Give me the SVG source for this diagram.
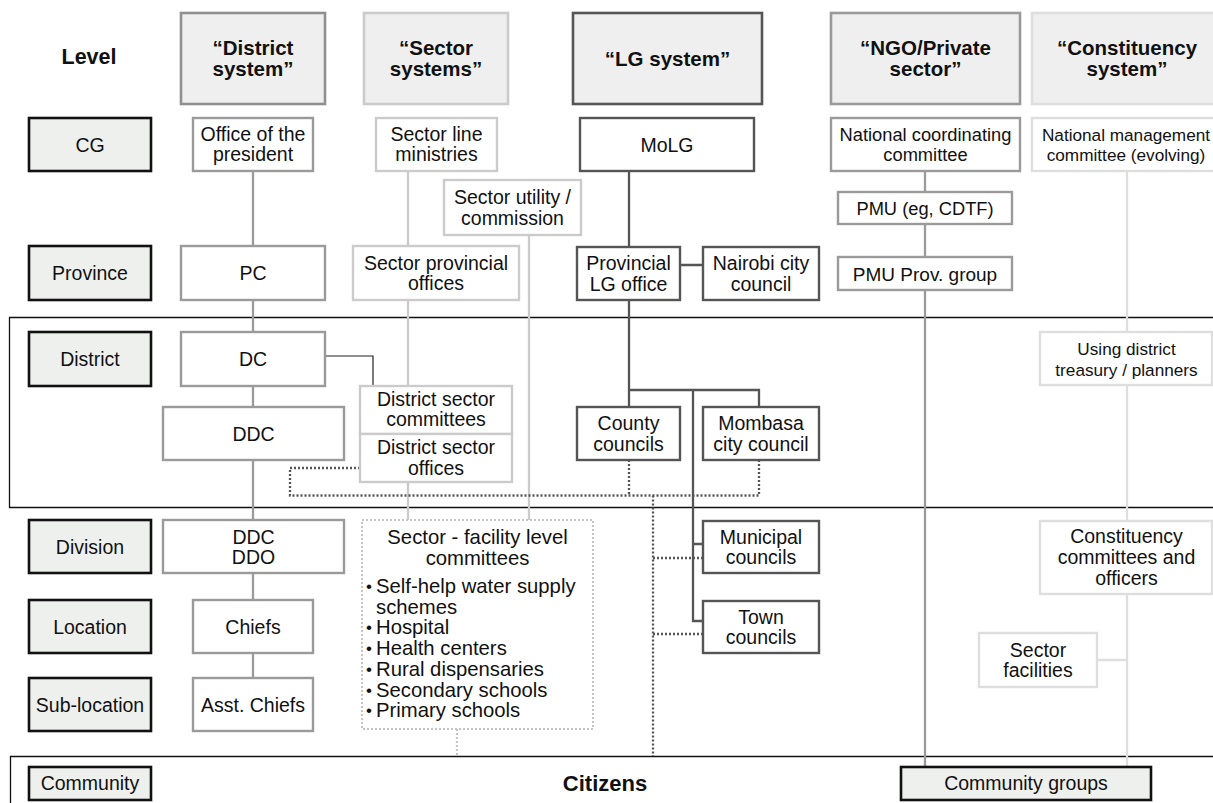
<svg xmlns="http://www.w3.org/2000/svg" width="1213" height="803" viewBox="0 0 1213 803">
  <style>
    text { font-family: "Liberation Sans", Arial, Helvetica, sans-serif; font-size: 19.5px; fill: #111; text-anchor: middle; }
    .hd { font-weight: bold; font-size: 20.5px; }
    .big { font-weight: bold; font-size: 22px; }
    .sm { font-size: 17.2px; }
    .md { font-size: 18.3px; }
    .fac { font-size: 20.3px; text-anchor: start; }
    .bul { font-size: 17px; text-anchor: start; }
    .head rect { fill: #eeefee; stroke-width: 2.6; }
    .lvl rect { fill: #eef0ee; stroke: #111; stroke-width: 2.6; }
    .box rect { fill: #fff; stroke-width: 2.4; }
    .dist rect { stroke: #9a9a9a; }
    .sect rect { stroke: #cbcbcb; }
    .lg rect { stroke: #555; }
    .ngo rect { stroke: #9a9a9a; }
    .cons rect { stroke: #dedede; }
    .frame { fill: none; stroke: #111; stroke-width: 1.3; }
    .ln { fill: none; stroke-width: 2.3; }
    .l-dist { stroke: #9a9a9a; }
    .l-sect { stroke: #cbcbcb; }
    .l-lg { stroke: #555; }
    .l-ngo { stroke: #9a9a9a; }
    .l-cons { stroke: #dedede; }
    .l-thin { fill: none; stroke: #222; stroke-width: 1.2; }
    .dot { fill: none; stroke: #555; stroke-width: 2.3; stroke-dasharray: 2 2; }
    .dot-lt { fill: none; stroke: #c4c4c4; stroke-width: 2.2; stroke-dasharray: 2 2; }
  </style>

  <!-- level bands -->
  <g id="bands">
    <path class="frame" d="M1214 317.5 H9.5 V507.5 H1214"/>
    <path class="frame" d="M1214 756.5 H10.5 V804"/>
  </g>

  <!-- connectors -->
  <g id="connectors">
    <!-- district system -->
    <path class="ln l-dist" d="M253 171 V246 M253 300 V332 M253 386 V407 M253 460 V520 M253 573 V600 M253 653 V678"/>
    <!-- sector systems -->
    <path class="ln l-sect" d="M408 171 V246 M408 300 V386 M408 482 V520 M529 235 V520"/>
    <!-- DC to district sector committees -->
    <path class="l-thin" d="M325 356 H373 V386"/>
    <!-- LG system -->
    <path class="ln l-lg" d="M629 171 V407 M629 390 H759 V407 M693 390 V621 H703 M693 544 H703 M680 265 H703"/>
    <!-- NGO / private sector -->
    <path class="ln l-ngo" d="M925 171 V192 M925 224 V257 M925 290 V767"/>
    <!-- constituency system -->
    <path class="ln l-cons" d="M1127 171 V332 M1127 385 V521 M1127 594 V767 M1097 660 H1127"/>
    <!-- informal links -->
    <path class="dot" d="M360 468 H290 V495.5 H759 V460 M629 460 V495.5 M653 495.5 V756 M653 558 H703 M653 634 H703"/>
    <path class="dot-lt" d="M457 729 V756"/>
  </g>

  <!-- column headers -->
  <g id="level-title"><text class="hd" x="89" y="64" style="font-size:21.5px">Level</text></g>
  <g id="hdr-district" class="head"><rect x="181" y="13" width="144" height="91" stroke="#909090"/><text class="hd" x="253" y="55">“District</text><text class="hd" x="253" y="76">system”</text></g>
  <g id="hdr-sector" class="head"><rect x="364" y="13" width="144" height="91" stroke="#cbcbcb"/><text class="hd" x="436" y="55">“Sector</text><text class="hd" x="436" y="76">systems”</text></g>
  <g id="hdr-lg" class="head"><rect x="573" y="13" width="189" height="91" stroke="#555"/><text class="hd" x="667.5" y="66">“LG system”</text></g>
  <g id="hdr-ngo" class="head"><rect x="831" y="13" width="189" height="91" stroke="#9a9a9a"/><text class="hd" x="925.5" y="55">“NGO/Private</text><text class="hd" x="925.5" y="76">sector”</text></g>
  <g id="hdr-cons" class="head"><rect x="1032" y="13" width="190" height="91" stroke="#dedede"/><text class="hd" x="1127" y="55">“Constituency</text><text class="hd" x="1127" y="76">system”</text></g>

  <!-- level labels -->
  <g id="lvl-cg" class="lvl"><rect x="29" y="118" width="122" height="53"/><text x="90" y="151.5">CG</text></g>
  <g id="lvl-province" class="lvl"><rect x="29" y="246" width="122" height="54"/><text x="90" y="280">Province</text></g>
  <g id="lvl-district" class="lvl"><rect x="29" y="332" width="122" height="54"/><text x="90" y="366">District</text></g>
  <g id="lvl-division" class="lvl"><rect x="29" y="520" width="122" height="53"/><text x="90" y="553.5">Division</text></g>
  <g id="lvl-location" class="lvl"><rect x="29" y="600" width="122" height="53"/><text x="90" y="633.5">Location</text></g>
  <g id="lvl-sublocation" class="lvl"><rect x="29" y="678" width="122" height="53"/><text x="90" y="711.5">Sub-location</text></g>
  <g id="lvl-community" class="lvl"><rect x="29" y="767" width="122" height="33"/><text x="90" y="790">Community</text></g>

  <!-- district system -->
  <g id="office-president" class="box dist"><rect x="193" y="118" width="120" height="53"/><text x="253" y="140.5">Office of the</text><text x="253" y="161">president</text></g>
  <g id="pc" class="box dist"><rect x="181" y="246" width="144" height="54"/><text x="253" y="280">PC</text></g>
  <g id="dc" class="box dist"><rect x="181" y="332" width="144" height="54"/><text x="253" y="366">DC</text></g>
  <g id="ddc" class="box dist"><rect x="163" y="407" width="181" height="53"/><text x="253.5" y="440.5">DDC</text></g>
  <g id="ddc-ddo" class="box dist"><rect x="163" y="520" width="181" height="53"/><text x="253.5" y="543.5">DDC</text><text x="253.5" y="564">DDO</text></g>
  <g id="chiefs" class="box dist"><rect x="193" y="600" width="120" height="53"/><text x="253" y="633.5">Chiefs</text></g>
  <g id="asst-chiefs" class="box dist"><rect x="193" y="678" width="120" height="53"/><text x="253" y="711.5">Asst. Chiefs</text></g>

  <!-- sector systems -->
  <g id="sector-ministries" class="box sect"><rect x="376" y="118" width="121" height="53"/><text x="436.5" y="140.5">Sector line</text><text x="436.5" y="161">ministries</text></g>
  <g id="sector-utility" class="box sect"><rect x="444" y="180" width="137" height="55"/><text x="512.5" y="204">Sector utility /</text><text x="512.5" y="225">commission</text></g>
  <g id="sector-provincial" class="box sect"><rect x="353" y="246" width="166" height="54"/><text x="436" y="269.5">Sector provincial</text><text x="436" y="290">offices</text></g>
  <g id="district-committees" class="box sect"><rect x="360" y="386" width="152" height="48"/><text x="436" y="405.5">District sector</text><text x="436" y="426">committees</text></g>
  <g id="district-offices" class="box sect"><rect x="360" y="434" width="152" height="48"/><text x="436" y="454">District sector</text><text x="436" y="474.5">offices</text></g>
  <g id="facility-committees">
    <rect x="362" y="520" width="231" height="209" fill="#fff" stroke="#c4c4c4" stroke-width="2" stroke-dasharray="2 2"/>
    <text x="477.5" y="544" style="font-size:20.3px">Sector - facility level</text>
    <text x="477.5" y="565" style="font-size:20.3px">committees</text>
    <text class="bul" x="366" y="592">•</text><text class="fac" x="376" y="593">Self-help water supply</text>
    <text class="fac" x="376" y="613.5">schemes</text>
    <text class="bul" x="366" y="633">•</text><text class="fac" x="376" y="634">Hospital</text>
    <text class="bul" x="366" y="654">•</text><text class="fac" x="376" y="655">Health centers</text>
    <text class="bul" x="366" y="675">•</text><text class="fac" x="376" y="676">Rural dispensaries</text>
    <text class="bul" x="366" y="695.5">•</text><text class="fac" x="376" y="696.5">Secondary schools</text>
    <text class="bul" x="366" y="716">•</text><text class="fac" x="376" y="717">Primary schools</text>
  </g>

  <!-- LG system -->
  <g id="molg" class="box lg"><rect x="580" y="118" width="174" height="53"/><text x="667" y="151.5">MoLG</text></g>
  <g id="provincial-lg" class="box lg"><rect x="577" y="247" width="103" height="53"/><text x="628.5" y="270">Provincial</text><text x="628.5" y="290.5">LG office</text></g>
  <g id="nairobi" class="box lg"><rect x="703" y="247" width="116" height="53"/><text x="761" y="270">Nairobi city</text><text x="761" y="290.5">council</text></g>
  <g id="county-councils" class="box lg"><rect x="577" y="407" width="103" height="53"/><text x="628.5" y="430">County</text><text x="628.5" y="450.5">councils</text></g>
  <g id="mombasa" class="box lg"><rect x="703" y="407" width="116" height="53"/><text x="761" y="430">Mombasa</text><text x="761" y="450.5">city council</text></g>
  <g id="municipal-councils" class="box lg"><rect x="703" y="521" width="116" height="52"/><text x="761" y="543.5">Municipal</text><text x="761" y="564">councils</text></g>
  <g id="town-councils" class="box lg"><rect x="703" y="601" width="116" height="52"/><text x="761" y="623.5">Town</text><text x="761" y="644">councils</text></g>

  <!-- NGO / private sector -->
  <g id="national-coordinating" class="box ngo"><rect x="831" y="118" width="189" height="53"/><text class="md" x="925.5" y="140.5">National coordinating</text><text class="md" x="925.5" y="161">committee</text></g>
  <g id="pmu" class="box ngo"><rect x="838" y="192" width="174" height="32"/><text class="md" x="925" y="214.5">PMU (eg, CDTF)</text></g>
  <g id="pmu-prov" class="box ngo"><rect x="838" y="257" width="174" height="33"/><text x="925" y="280.5" style="font-size:19px">PMU Prov. group</text></g>
  <g id="community-groups"><rect x="901" y="767" width="250" height="33" fill="#eef0ee" stroke="#111" stroke-width="2.6"/><text x="1026" y="790">Community groups</text></g>

  <!-- constituency system -->
  <g id="national-management" class="box cons"><rect x="1032" y="118" width="190" height="53"/><text class="sm" x="1126" y="140.5">National management</text><text class="sm" x="1126" y="161">committee (evolving)</text></g>
  <g id="district-treasury" class="box cons"><rect x="1040" y="332" width="172" height="53"/><text class="sm" x="1126.5" y="355">Using district</text><text class="sm" x="1126.5" y="376">treasury / planners</text></g>
  <g id="constituency-committees" class="box cons"><rect x="1040" y="521" width="172" height="73"/><text x="1126.5" y="543">Constituency</text><text x="1126.5" y="564">committees and</text><text x="1126.5" y="584.5">officers</text></g>
  <g id="sector-facilities" class="box cons"><rect x="979" y="633" width="118" height="54"/><text x="1038" y="656.5">Sector</text><text x="1038" y="677">facilities</text></g>

  <!-- community -->
  <g id="citizens"><text class="big" x="605" y="791">Citizens</text></g>
</svg>
